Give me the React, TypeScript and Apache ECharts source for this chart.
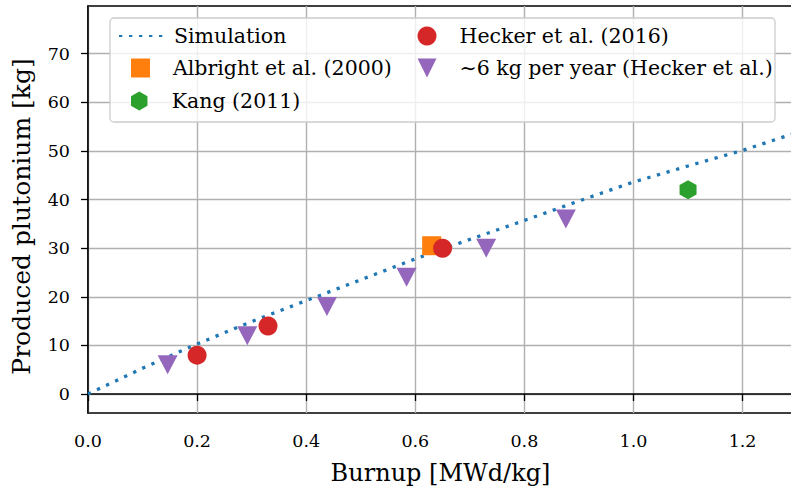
import React, { useEffect, useRef } from "react";
import * as echarts from "echarts";

const simX = [0, 0.1, 0.2, 0.3, 0.4, 0.5, 0.6, 0.7, 0.8, 0.9, 1.0, 1.1, 1.2, 1.3];
const simY = [0, 5.3, 10.3, 14.9, 19.2, 23.5, 27.8, 31.8, 35.7, 39.7, 43.6, 46.9, 50.1, 53.8];

const albrightX = [0.63];
const albrightY = [30.5];

const kangX = [1.1];
const kangY = [42];

const heckerX = [0.2, 0.33, 0.65];
const heckerY = [8, 14, 30];

const yearX = [0.146, 0.292, 0.438, 0.584, 0.73, 0.876];
const yearY = [6, 12, 18, 24, 30, 36];

const yTicks = [0, 10, 20, 30, 40, 50, 60, 70];

const NAMES = {
  sim: "Simulation",
  alb: "Albright et al. (2000)",
  kang: "Kang (2011)",
  heck: "Hecker et al. (2016)",
  year: "\u223C6 kg per year (Hecker et al.)",
};

const zip = (xs: number[], ys: number[]) => xs.map((x, i) => [x, ys[i]]);

const FONT = "'DejaVu Serif', 'Liberation Serif', serif";
const HEX = "path://M0,-1 L0.866,-0.5 L0.866,0.5 L0,1 L-0.866,0.5 L-0.866,-0.5 Z";
const TRI_DOWN = "path://M-1,-1 L1,-1 L0,1 Z";

export default function App() {
  const ref = useRef<HTMLDivElement>(null);
  useEffect(() => {
    if (!ref.current) return;
    const chart = echarts.init(ref.current, undefined, { renderer: "svg" });
    const mkLegend = (name: any, left: number, top: number, wide: boolean) => ({
      orient: "vertical",
      left,
      top,
      padding: 0,
      itemWidth: wide ? 45 : 19,
      itemHeight: 19,
      itemGap: 0,
      textStyle: {
        fontFamily: FONT,
        fontSize: 20.5,
        color: "#000",
        lineHeight: 22,
        padding: [0, 0, 0, wide ? 5 : 18],
      },
      selectedMode: false,
      z: 4,
      data: [name],
    });
    chart.setOption({
      animation: false,
      backgroundColor: "#fff",
      grid: {
        left: 88,
        right: -2,
        top: 6,
        bottom: 81,
        containLabel: false,
        outerBoundsMode: "none",
        show: true,
        borderColor: "#000",
        borderWidth: 1.5,
        backgroundColor: "transparent",
      },
      graphic: [
        {
          type: "rect",
          z: 3,
          shape: { x: 110, y: 18, width: 665, height: 104, r: 4 },
          style: { fill: "rgba(255,255,255,0.8)", stroke: "#cccccc", lineWidth: 1.3 },
        },
      ],
      legend: [
        mkLegend({ name: NAMES.sim, itemStyle: { opacity: 0 } }, 118, 25, true),
        mkLegend(NAMES.alb, 131, 57, false),
        mkLegend(NAMES.kang, 131, 90, false),
        mkLegend(NAMES.heck, 417.5, 25, false),
        mkLegend(NAMES.year, 417.5, 57, false),
      ],
      xAxis: {
        type: "value",
        min: 0,
        max: 1.2924,
        interval: 0.2,
        name: "Burnup [MWd/kg]",
        nameLocation: "middle",
        nameGap: 48,
        nameTextStyle: { fontFamily: FONT, fontSize: 24, color: "#000" },
        axisLine: { show: true, lineStyle: { color: "#000", width: 1.5 } },
        axisTick: { show: true, inside: false, length: 7, lineStyle: { color: "#000", width: 1.3 } },
        axisLabel: {
          fontFamily: FONT,
          fontSize: 17.5,
          color: "#000",
          margin: 19,
          showMaxLabel: false,
          formatter: (v: number) => v.toFixed(1),
        },
        splitLine: { show: true, lineStyle: { color: "#b0b0b0", width: 1.4 } },
      },
      yAxis: {
        type: "value",
        min: -3.9,
        max: 79.8,
        name: "Produced plutonium [kg]",
        nameLocation: "middle",
        nameGap: 54,
        nameTextStyle: { fontFamily: FONT, fontSize: 25, color: "#000", padding: [0, 14, 0, 0] },
        axisLine: { show: true, lineStyle: { color: "#000", width: 1.5 } },
        axisTick: { show: true, inside: false, length: 7, customValues: yTicks, lineStyle: { color: "#000", width: 1.3 } },
        axisLabel: {
          fontFamily: FONT,
          fontSize: 17.5,
          color: "#000",
          margin: 18,
          customValues: yTicks,
          formatter: (v: number) => String(Math.round(v)),
        },
        splitLine: { show: true, lineStyle: { color: "#b0b0b0", width: 1.4 } },
      },
      series: [
        {
          name: NAMES.sim,
          type: "line",
          data: zip(simX, simY),
          symbol: "none",
          smooth: false,
          color: "#1f77b4",
          lineStyle: { color: "#1f77b4", width: 3.3, type: [3.3, 6.7], cap: "butt" },
          z: 2,
        },
        {
          name: NAMES.alb,
          type: "scatter",
          data: zip(albrightX, albrightY),
          symbol: "rect",
          symbolSize: 19,
          itemStyle: { color: "#ff7f0e", opacity: 1 },
          z: 3,
        },
        {
          name: NAMES.kang,
          type: "scatter",
          data: zip(kangX, kangY),
          symbol: HEX,
          symbolSize: [17, 19],
          itemStyle: { color: "#2ca02c", opacity: 1 },
          z: 3,
        },
        {
          name: NAMES.heck,
          type: "scatter",
          data: zip(heckerX, heckerY),
          symbol: "circle",
          symbolSize: 19,
          itemStyle: { color: "#d62728", opacity: 1 },
          z: 4,
        },
        {
          name: NAMES.year,
          type: "scatter",
          data: zip(yearX, yearY),
          symbol: TRI_DOWN,
          symbolSize: [20, 19],
          itemStyle: { color: "#9467bd", opacity: 1 },
          z: 5,
        },
      ],
    });
    return () => chart.dispose();
  }, []);
  return (
    <div
      ref={ref}
      style={{ position: "fixed", left: 0, top: 0, width: 791, height: 494 }}
    />
  );
}
